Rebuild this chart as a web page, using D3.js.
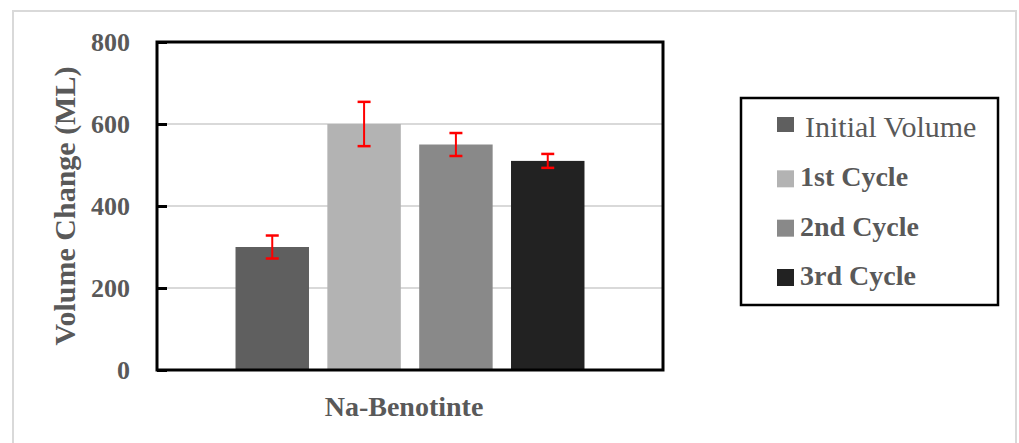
<!DOCTYPE html>
<html><head><meta charset="utf-8">
<script src="https://cdn.jsdelivr.net/npm/d3@7"></script>
<style>body{margin:0;background:#fff}svg{display:block}</style>
</head><body>
<script>
const categories = ["Na-Benotinte"];
const seriesNames = ["Initial Volume", "1st Cycle", "2nd Cycle", "3rd Cycle"];
const seriesValues = [300, 600, 550, 510];
const seriesErrors = [28, 54, 28, 17];
const seriesColors = ["#5f5f5f", "#b3b3b3", "#898989", "#222222"];
const yTicks = [0, 200, 400, 600, 800];
const yTitle = "Volume Change (ML)";

const W = 1019, H = 443;
const svg = d3.select("body").append("svg").attr("width", W).attr("height", H);
const font = "'Liberation Serif', 'DejaVu Serif', serif";
const textCol = "#595959";

// outer frame
svg.append("rect").attr("x", 13).attr("y", 11).attr("width", 1003).attr("height", 460)
  .attr("fill", "none").attr("stroke", "#d9d9d9").attr("stroke-width", 2);

const plot = {l: 157, t: 42, r: 663, b: 370};
const y = d3.scaleLinear().domain([0, 800]).range([plot.b, plot.t]);
const x0 = d3.scaleBand().domain(categories).range([plot.l, plot.r]).paddingInner(0).paddingOuter(0.225);
const x1 = d3.scaleBand().domain(seriesNames).range([0, x0.bandwidth()]).paddingInner(0.2);

// gridlines
svg.append("g").selectAll("line").data(yTicks.filter(d => d > 0)).join("line")
  .attr("x1", plot.l).attr("x2", plot.r).attr("y1", d => y(d)).attr("y2", d => y(d))
  .attr("stroke", "#d9d9d9").attr("stroke-width", 2);

// bars
const data = seriesNames.map((s, i) => ({s, v: seriesValues[i], e: seriesErrors[i], c: seriesColors[i]}));
const g = svg.append("g").attr("transform", `translate(${x0(categories[0])},0)`);
g.selectAll("rect").data(data).join("rect")
  .attr("x", d => x1(d.s)).attr("width", x1.bandwidth())
  .attr("y", d => y(d.v)).attr("height", d => y(0) - y(d.v))
  .attr("fill", d => d.c);

// error bars
const eb = g.selectAll("g.eb").data(data).join("g").attr("class", "eb")
  .attr("transform", d => `translate(${x1(d.s) + x1.bandwidth() / 2},0)`);
eb.append("line").attr("y1", d => y(d.v + d.e)).attr("y2", d => y(d.v - d.e))
  .attr("stroke", "#ff0000").attr("stroke-width", 2);
eb.selectAll("line.cap").data(d => [d.v + d.e, d.v - d.e]).join("line").attr("class", "cap")
  .attr("x1", -6.5).attr("x2", 6.5).attr("y1", d => y(d)).attr("y2", d => y(d))
  .attr("stroke", "#ff0000").attr("stroke-width", 2.5);

// y axis
const yAxis = d3.axisLeft(y).tickValues(yTicks).tickSize(-10).tickPadding(27);
const ya = svg.append("g").attr("transform", `translate(${plot.l},0)`).call(yAxis);
ya.select(".domain").remove();
ya.selectAll(".tick line").attr("stroke", "#000").attr("stroke-width", 3);
ya.selectAll(".tick text").attr("font-family", font).attr("font-size", 26).attr("font-weight", "bold")
  .attr("fill", textCol);

// plot frame
svg.append("rect").attr("x", plot.l).attr("y", plot.t).attr("width", plot.r - plot.l).attr("height", plot.b - plot.t)
  .attr("fill", "none").attr("stroke", "#000").attr("stroke-width", 3);

// x axis label
const xAxis = d3.axisBottom(x0).tickSize(0).tickPadding(0);
const xa = svg.append("g").attr("transform", `translate(0,${plot.b})`).call(xAxis);
xa.select(".domain").remove();
xa.selectAll(".tick text").attr("font-family", font).attr("font-size", 28).attr("font-weight", "bold")
  .attr("fill", textCol).attr("dy", 0).attr("y", 46).attr("x", -6);

// y title
svg.append("text").attr("transform", `translate(75,206) rotate(-90)`)
  .attr("text-anchor", "middle").attr("font-family", font).attr("font-size", 30).attr("font-weight", "bold")
  .attr("fill", textCol).text(yTitle);

// legend
const lg = svg.append("g");
lg.append("rect").attr("x", 741).attr("y", 98).attr("width", 257).attr("height", 207)
  .attr("fill", "#fff").attr("stroke", "#000").attr("stroke-width", 2.5);
const rowY = d3.scalePoint().domain(seriesNames).range([137, 285]);
const items = lg.selectAll("g.item").data(data).join("g").attr("class", "item")
  .attr("transform", d => `translate(0,${rowY(d.s)})`);
items.append("rect").attr("x", 777).attr("y", (d, i) => i === 0 ? -20 : -16).attr("width", 17).attr("height", (d, i) => i === 0 ? 15 : 17)
  .attr("fill", d => d.c);
items.append("text").attr("x", (d, i) => i === 0 ? 805 : 800).attr("y", 0)
  .attr("font-family", font).attr("font-size", (d, i) => i === 0 ? 30 : 28).attr("font-weight", (d, i) => i === 0 ? "normal" : "bold")
  .attr("fill", textCol).text(d => d.s);
</script>
</body></html>
